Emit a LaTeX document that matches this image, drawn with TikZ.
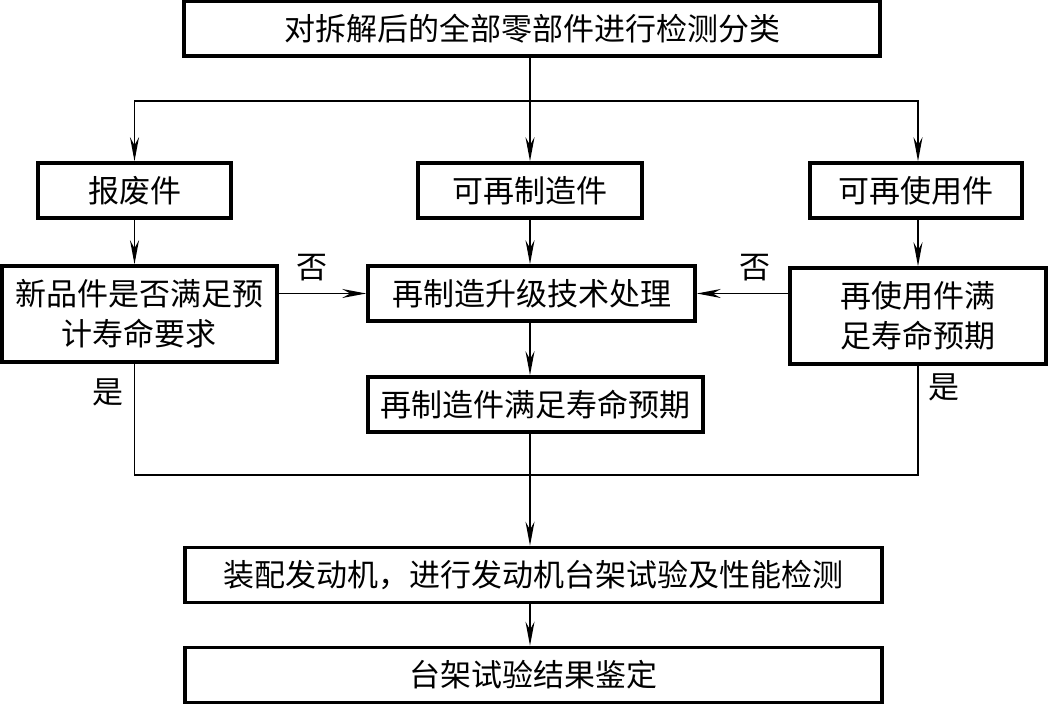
\documentclass[tikz,border=0pt]{standalone}
\usepackage{fontspec}
\setmainfont{Noto Sans CJK SC}
\usetikzlibrary{arrows.meta}

\begin{document}
\begin{tikzpicture}[
    x=0.5pt, y=-0.5pt,
    every node/.style={align=center, font=\fontsize{15.5}{20}\selectfont},
    box/.style={draw, line width=1.8pt, inner sep=0pt, minimum height=27.5pt},
    line/.style={line width=0.75pt},
    >={Stealth[length=12pt, width=4.5pt, inset=4pt]}
]
\useasboundingbox (0,0) rectangle (1049,704);

\node[box, minimum width=348pt] (top) at (532,28.5) {对拆解后的全部零部件进行检测分类};
\node[box, minimum width=96.5pt] (scrap) at (134.5,190.5) {报废件};
\node[box, minimum width=112pt] (reman) at (530,190.5) {可再制造件};
\node[box, minimum width=106pt] (reuse) at (916,190.5) {可再使用件};
\node[box, minimum width=137.5pt, minimum height=48pt] (newpart) at (139.5,314) {新品件是否满足预\\计寿命要求};
\node[box, minimum width=163.5pt] (upgrade) at (531.5,293.5) {再制造升级技术处理};
\node[box, minimum width=128pt, minimum height=48pt] (reusecheck) at (918,316) {再使用件满\\足寿命预期};
\node[box, minimum width=167.5pt] (remancheck) at (535.5,404.5) {再制造件满足寿命预期};
\node[box, minimum width=348.5pt] (assemble) at (533.5,575) {装配发动机，进行发动机台架试验及性能检测};
\node[box, minimum width=348.5pt] (identify) at (533.5,675) {台架试验结果鉴定};

\node (noleft) at (312,268) {否};
\node (noright) at (755,268) {否};
\node (yesleft) at (108,392) {是};
\node (yesright) at (944,387) {是};

\coordinate (split) at (530,101);
\coordinate (join) at (530,475);

\draw[line, ->] (top.south -| split) -- (reman.north -| split);
\draw[line, ->] (split) -| (scrap.north);
\draw[line, ->] (split) -| (reusecheck.north |- reuse.north);
\draw[line, ->] (scrap.south) -- (scrap.south |- newpart.north);
\draw[line, ->] (reman.south) -- (reman.south |- upgrade.north);
\draw[line, ->] (reusecheck.north |- reuse.south) -- (reusecheck.north);
\draw[line, ->] (newpart.east |- upgrade) -- (upgrade.west);
\draw[line, ->] (reusecheck.west |- upgrade) -- (upgrade.east);
\draw[line, ->] (upgrade.south -| split) -- (remancheck.north -| split);
\draw[line] (newpart.south -| scrap.south) |- (join) -| (reusecheck.south);
\draw[line] (remancheck.south -| join) -- (join);
\draw[line, ->] (join) -- (join |- assemble.north);
\draw[line, ->] (assemble.south -| join) -- (identify.north -| join);
\end{tikzpicture}
\end{document}
